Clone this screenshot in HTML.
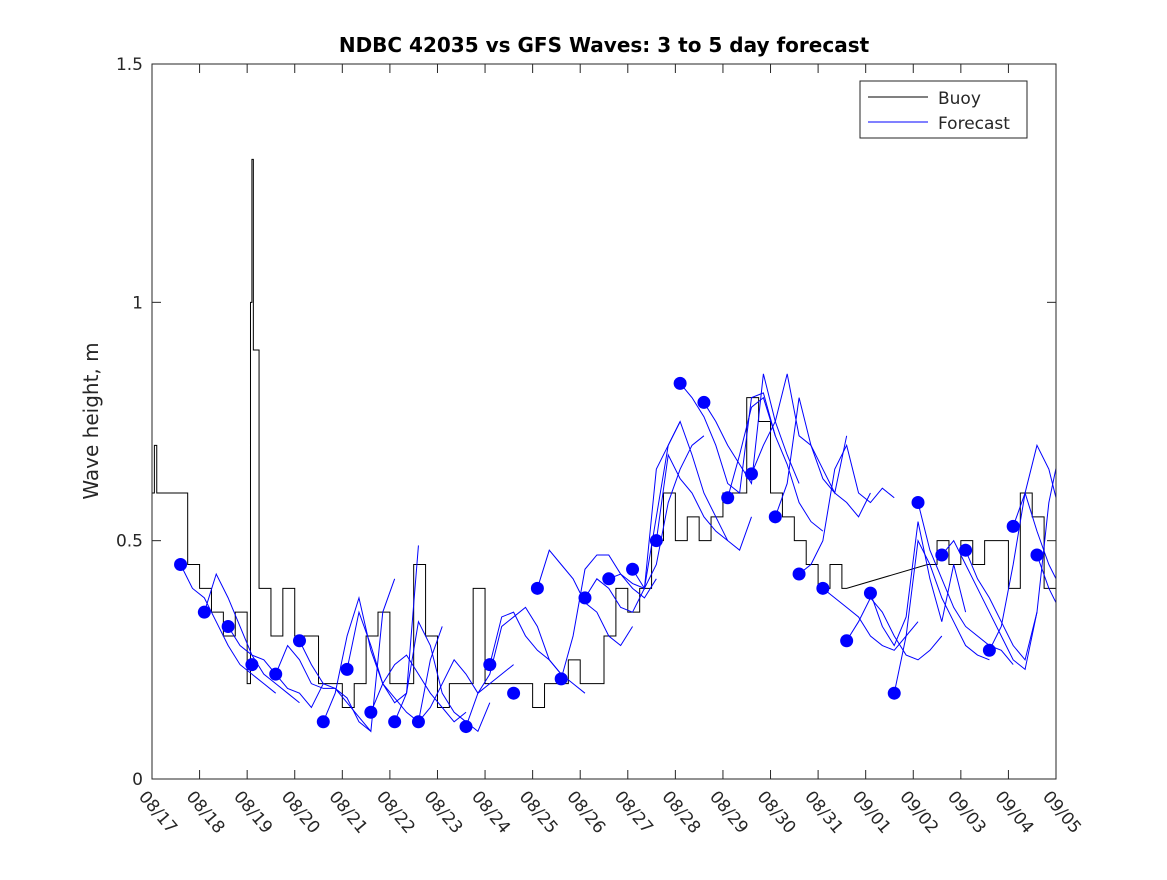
<!DOCTYPE html>
<html><head><meta charset="utf-8"><style>
body{margin:0;background:#fff}
svg text{font-family:"DejaVu Sans","Liberation Sans",sans-serif;fill:#262626}
</style></head><body>
<svg id="chart" width="1167" height="875" xmlns="http://www.w3.org/2000/svg">
<defs><clipPath id="clip"><rect x="152" y="64" width="904" height="715"/></clipPath></defs>
<rect width="1167" height="875" fill="#fff"/>
<text x="604" y="52" text-anchor="middle" font-size="20" font-weight="bold" style="fill:#000">NDBC 42035 vs GFS Waves: 3 to 5 day forecast</text>
<text transform="translate(98,421) rotate(-90)" text-anchor="middle" font-size="20">Wave height, m</text>
<g id="plot" clip-path="url(#clip)"></g>
<rect x="152" y="64" width="904" height="715" fill="none" stroke="#262626" stroke-width="1"/>
<g>
<rect x="860" y="81" width="167" height="57" fill="#fff" stroke="#262626"/>
<line x1="868" y1="97" x2="928" y2="97" stroke="#000"/>
<text x="938" y="104" font-size="17">Buoy</text>
<line x1="868" y1="122" x2="928" y2="122" stroke="#0000ff"/>
<text x="938" y="129" font-size="17">Forecast</text>
</g>
</svg>
<script>
const xTickLabels=["08/17","08/18","08/19","08/20","08/21","08/22","08/23","08/24","08/25","08/26","08/27","08/28","08/29","08/30","08/31","09/01","09/02","09/03","09/04","09/05"];
const yTicks=[0,0.5,1,1.5];
const yTickLabels=["0","0.5","1","1.5"];
const buoyT=[0,0.05,0.1,0.25,0.5,0.75,1.0,1.25,1.5,1.75,2.0,2.07,2.1,2.13,2.25,2.5,2.75,3.0,3.25,3.5,3.75,4.0,4.25,4.5,4.75,5.0,5.25,5.5,5.75,6.0,6.25,6.5,6.75,7.0,7.25,7.5,7.75,8.0,8.25,8.5,8.75,9.0,9.25,9.5,9.75,10.0,10.25,10.5,10.75,11.0,11.25,11.5,11.75,12.0,12.25,12.5,12.75,13.0,13.25,13.5,13.75,14.0,14.25,14.5,14.6,16.3,16.5,16.75,17.0,17.25,17.5,17.75,18.0,18.25,18.5,18.75,19.0];
const buoyV=[0.6,0.7,0.6,0.6,0.6,0.45,0.4,0.35,0.3,0.35,0.2,1.0,1.3,0.9,0.4,0.3,0.4,0.3,0.3,0.2,0.2,0.15,0.2,0.3,0.35,0.2,0.2,0.45,0.3,0.15,0.2,0.2,0.4,0.2,0.2,0.2,0.2,0.15,0.2,0.2,0.25,0.2,0.2,0.3,0.4,0.35,0.4,0.5,0.6,0.5,0.55,0.5,0.55,0.6,0.6,0.8,0.75,0.6,0.55,0.5,0.45,0.4,0.45,0.4,0.4,0.45,0.5,0.45,0.5,0.45,0.5,0.5,0.4,0.6,0.55,0.4,0.45];
const fcStart=[0.6,1.1,1.6,2.6,3.1,3.6,4.1,4.6,5.1,5.6,6.6,7.1,8.1,8.6,9.1,9.6,10.1,10.6,11.1,11.6,12.1,12.6,13.1,13.6,14.1,14.6,15.1,15.6,16.1,16.6,17.1,17.6,18.1,18.6];
const fcValues=[
[0.45,0.40,0.38,0.33,0.28,0.24,0.22,0.20,0.18],
[0.35,0.43,0.38,0.32,0.26,0.22,0.20,0.18,0.16],
[0.32,0.28,0.26,0.25,0.22,0.19,0.18,0.15,0.20],
[0.22,0.28,0.25,0.20,0.19,0.19,0.17,0.12,0.10],
[0.29,0.24,0.20,0.19,0.16,0.13,0.10,0.35,0.42],
[0.12,0.18,0.30,0.38,0.27,0.20,0.16,0.18,0.49],
[0.23,0.35,0.28,0.20,0.17,0.14,0.12,0.25,0.32],
[0.14,0.20,0.24,0.26,0.22,0.18,0.15,0.12,0.14],
[0.12,0.18,0.33,0.28,0.18,0.14,0.12,0.10,0.16],
[0.12,0.15,0.20,0.25,0.22,0.18,0.20,0.22,0.24],
[0.11,0.18,0.22,0.32,0.34,0.36,0.32,0.25,0.22],
[0.24,0.34,0.35,0.30,0.27,0.25,0.22,0.20,0.18],
[0.40,0.48,0.45,0.42,0.37,0.35,0.30,0.28,0.32],
[0.21,0.30,0.44,0.47,0.47,0.43,0.40,0.38,0.42],
[0.38,0.42,0.40,0.36,0.35,0.40,0.65,0.70,0.75],
[0.42,0.43,0.41,0.40,0.45,0.58,0.65,0.70,0.72],
[0.44,0.40,0.55,0.70,0.75,0.68,0.60,0.55,0.50],
[0.50,0.68,0.63,0.60,0.55,0.52,0.50,0.48,0.55],
[0.83,0.80,0.76,0.70,0.62,0.60,0.80,0.81,0.72],
[0.79,0.75,0.70,0.66,0.62,0.85,0.75,0.68,0.62],
[0.59,0.68,0.78,0.80,0.72,0.66,0.58,0.54,0.52],
[0.64,0.70,0.75,0.85,0.72,0.70,0.65,0.60,0.72],
[0.55,0.62,0.80,0.70,0.63,0.60,0.58,0.55,0.60],
[0.43,0.45,0.50,0.65,0.70,0.60,0.58,0.61,0.59],
[0.40,0.38,0.36,0.34,0.30,0.28,0.27,0.30,0.33],
[0.29,0.33,0.38,0.35,0.30,0.26,0.25,0.27,0.30],
[0.39,0.32,0.28,0.34,0.54,0.42,0.33,0.45,0.35],
[0.18,0.30,0.50,0.45,0.38,0.33,0.28,0.26,0.25],
[0.58,0.48,0.42,0.36,0.32,0.30,0.28,0.27,0.24],
[0.47,0.50,0.45,0.40,0.35,0.30,0.25,0.23,0.35],
[0.48,0.42,0.38,0.33,0.28,0.25,0.35,0.58,0.70],
[0.27,0.32,0.45,0.60,0.70,0.65,0.55,0.45,0.38],
[0.53,0.60,0.52,0.45,0.40],
[0.47,0.40,0.35,0.38]];
const dotValues=[0.45,0.35,0.32,0.24,0.22,0.29,0.12,0.23,0.14,0.12,0.12,0.11,0.24,0.18,0.40,0.21,0.38,0.42,0.44,0.50,0.83,0.79,0.59,0.64,0.55,0.43,0.40,0.29,0.39,0.18,0.58,0.47,0.48,0.27,0.53,0.47];
const dotT=[0.6,1.1,1.6,2.1,2.6,3.1,3.6,4.1,4.6,5.1,5.6,6.6,7.1,7.6,8.1,8.6,9.1,9.6,10.1,10.6,11.1,11.6,12.1,12.6,13.1,13.6,14.1,14.6,15.1,15.6,16.1,16.6,17.1,17.6,18.1,18.6];

const X0=152,X1=1056,Y0=779,Y1=64;
const xs=d=>X0+(X1-X0)*d/19;
const ys=v=>Y0-(Y0-Y1)*v/1.5;
const NS="http://www.w3.org/2000/svg";
const svg=document.getElementById('chart');
const plot=document.getElementById('plot');
function mk(tag,attrs,parent){const e=document.createElementNS(NS,tag);for(const k in attrs)e.setAttribute(k,attrs[k]);(parent||plot).appendChild(e);return e;}

xTickLabels.forEach((lab,i)=>{
  const x=xs(i);
  const t1=mk('line',{x1:x,y1:Y0,x2:x,y2:Y0-9,stroke:'#262626'},svg);
  
  
  const t2=mk('line',{x1:x,y1:Y1,x2:x,y2:Y1+9,stroke:'#262626'},svg);
  
  
  const tx=mk('text',{transform:`translate(${x-14},${Y0+18}) rotate(50)`,'font-size':17},svg);
  tx.textContent=lab;
  
  
});
yTicks.forEach((v,i)=>{
  const y=ys(v);
  const t1=mk('line',{x1:X0,y1:y,x2:X0+9,y2:y,stroke:'#262626'},svg);
  
  
  const t2=mk('line',{x1:X1,y1:y,x2:X1-9,y2:y,stroke:'#262626'},svg);
  
  
  const tx=mk('text',{x:X0-9,y:y+6,'text-anchor':'end','font-size':17},svg);
  tx.textContent=yTickLabels[i];
  
  
});

let d='';
buoyT.forEach((t,i)=>{
  const x=xs(t),y=ys(buoyV[i]);
  if(i===0)d=`M${x},${y}`;else{ const gap=t-buoyT[i-1]>1; d+= gap?` L${x},${y}`:` H${x} V${y}`; }
});
const bl=mk('path',{d:d,fill:'none',stroke:'#000','stroke-width':1});



fcValues.forEach((vals,k)=>{
  const p=vals.map((v,j)=>`${xs(fcStart[k]+0.25*j)},${ys(v)}`).join(' ');
  const pl=mk('polyline',{points:p,fill:'none',stroke:'#0000ff','stroke-width':1});
  
  
});
dotValues.forEach((v,i)=>{
  const c=mk('circle',{cx:xs(dotT[i]),cy:ys(v),r:6.5,fill:'#0000ff'});
  
  
});
</script>
</body></html>
